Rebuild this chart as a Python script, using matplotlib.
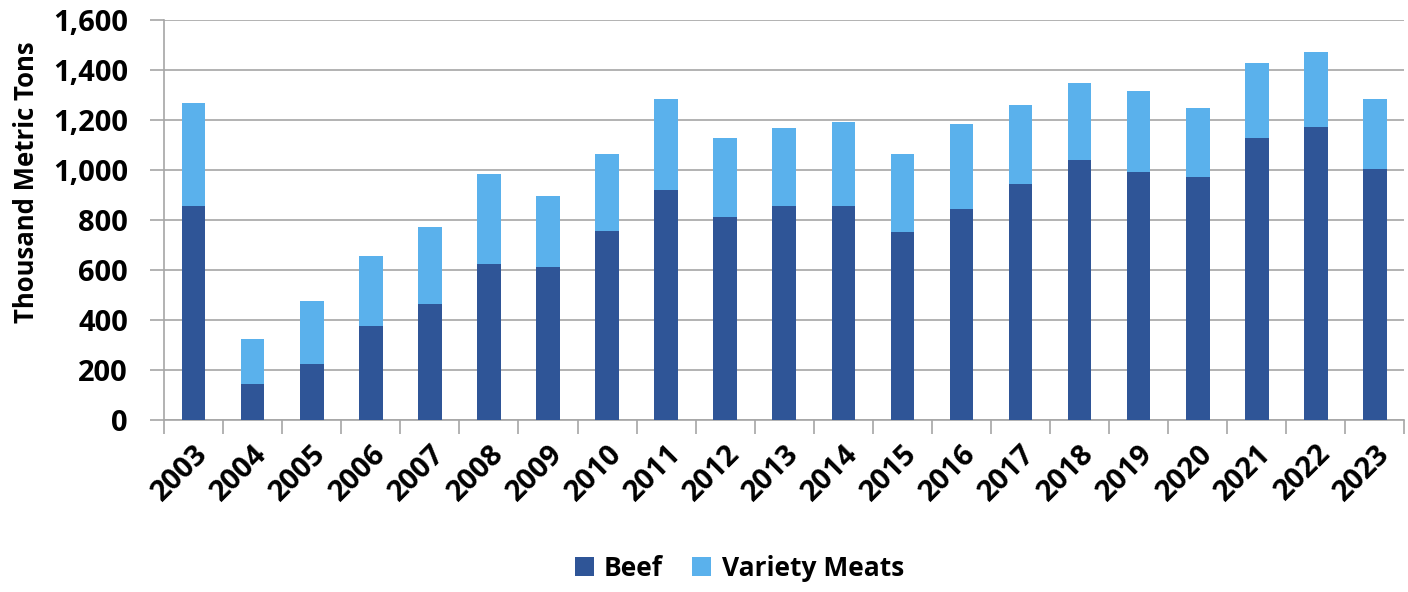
import numpy as np
import matplotlib
matplotlib.use("Agg")
import matplotlib.pyplot as plt
from matplotlib.ticker import FuncFormatter, FixedLocator

years = [str(y) for y in range(2003, 2024)]
beef = [855, 145, 223, 374, 463, 625, 613, 755, 918, 810, 855,
        855, 753, 843, 944, 1038, 993, 971, 1127, 1173, 1003]
totals = [1270, 322, 475, 654, 770, 982, 895, 1065, 1284, 1129, 1168,
          1193, 1064, 1184, 1260, 1348, 1315, 1248, 1427, 1471, 1285]
variety = [t - b for t, b in zip(totals, beef)]

beef_color = "#2F5597"
variety_color = "#5AB1EC"
grid_color = "#A6A6A6"

plt.rcParams["font.family"] = ["Open Sans", "DejaVu Sans"]
plt.rcParams["font.weight"] = "bold"

fig = plt.figure(figsize=(14.08, 5.92), dpi=100)
ax = fig.add_axes([0.1165, 0.291, 0.8810, 0.675])

x = np.arange(len(years))
ax.bar(x, beef, width=0.4, color=beef_color, label="Beef", zorder=3)
ax.bar(x, variety, width=0.4, bottom=beef, color=variety_color,
       label="Variety Meats", zorder=3)

ax.set_xlim(-0.5, len(years) - 0.5)
ax.set_ylim(0, 1600)
ax.set_yticks(range(0, 1601, 200))
ax.yaxis.set_major_formatter(FuncFormatter(lambda v, p: f"{int(v):,}"))
ax.grid(axis="y", color=grid_color, linewidth=1.2, zorder=0)

ax.set_xticks(x)
ax.set_xticklabels(years, rotation=45, ha="right", rotation_mode="anchor",
                   fontsize=21, fontweight="bold")
ax.xaxis.set_minor_locator(FixedLocator(np.arange(-0.5, len(years), 1.0)))
ax.tick_params(axis="x", which="major", length=0, pad=14)
ax.tick_params(axis="x", which="minor", length=10, color=grid_color, width=1.2)
ax.tick_params(axis="y", labelsize=21, length=10, color=grid_color, width=1.2, pad=16)
for lab in ax.get_yticklabels():
    lab.set_fontweight("bold")

for side in ("top", "right"):
    ax.spines[side].set_visible(False)
for side in ("left", "bottom"):
    ax.spines[side].set_color(grid_color)
    ax.spines[side].set_linewidth(1.2)

ax.set_ylabel("Thousand Metric Tons", fontsize=18.5, fontweight="bold")
ax.yaxis.set_label_coords(-0.1, 0.594)

fig.legend(loc="center", bbox_to_anchor=(0.525, 0.040), ncol=2,
           frameon=False, prop={"size": 19, "weight": "bold"},
           handlelength=0.72, handleheight=0.72, handletextpad=0.4,
           columnspacing=1.1)

fig.savefig("out.png", dpi=100)
